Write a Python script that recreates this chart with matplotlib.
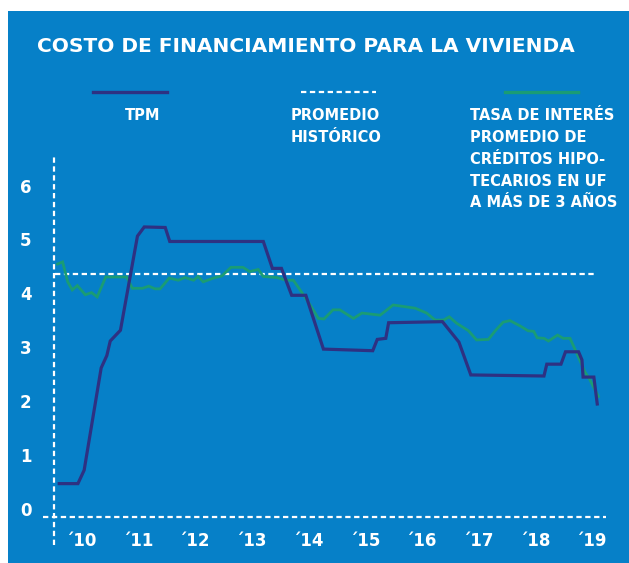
import matplotlib
matplotlib.use("Agg")
import matplotlib.pyplot as plt
from matplotlib.lines import Line2D
from matplotlib.patches import Rectangle
import numpy as np

# --- data -------------------------------------------------------------
tpm_x = [2009.58, 2009.91, 2010.02, 2010.32, 2010.42, 2010.48, 2010.66, 2010.96,
         2011.08, 2011.45, 2011.53, 2013.18, 2013.34, 2013.50, 2013.68, 2013.93,
         2014.24, 2015.11, 2015.19, 2015.34, 2015.39, 2016.34, 2016.63, 2016.84,
         2018.13, 2018.18, 2018.43, 2018.51, 2018.74, 2018.80, 2018.82, 2019.01,
         2019.07]
tpm_v = [0.5, 0.5, 0.75, 2.65, 2.88, 3.15, 3.35, 5.1,
         5.27, 5.26, 5.0, 5.0, 4.5, 4.5, 4.0, 4.0,
         3.0, 2.97, 3.18, 3.2, 3.49, 3.51, 3.13, 2.52,
         2.5, 2.72, 2.72, 2.95, 2.95, 2.8, 2.48, 2.48,
         1.98]

hipo_x = [2009.55, 2009.64, 2009.73, 2009.81, 2009.90, 2010.04, 2010.15, 2010.25,
          2010.40, 2010.77, 2010.87, 2011.05, 2011.16, 2011.27, 2011.36, 2011.52,
          2011.68, 2011.80, 2011.95, 2012.03, 2012.12, 2012.30, 2012.45, 2012.61,
          2012.82, 2012.94, 2013.09, 2013.18, 2013.42, 2013.58, 2013.71, 2013.90,
          2014.06, 2014.15, 2014.25, 2014.41, 2014.53, 2014.77, 2014.92, 2015.24,
          2015.47, 2015.86, 2016.06, 2016.21, 2016.36, 2016.46, 2016.59, 2016.80,
          2016.94, 2017.15, 2017.27, 2017.41, 2017.53, 2017.71, 2017.85, 2017.95,
          2018.01, 2018.13, 2018.21, 2018.37, 2018.47, 2018.59, 2018.71, 2018.85,
          2018.94, 2019.09]
hipo_v = [4.58, 4.62, 4.25, 4.10, 4.18, 4.01, 4.05, 3.97,
          4.34, 4.34, 4.13, 4.13, 4.17, 4.12, 4.12, 4.32,
          4.28, 4.33, 4.28, 4.35, 4.25, 4.32, 4.36, 4.52,
          4.52, 4.44, 4.48, 4.35, 4.33, 4.28, 4.28, 3.99,
          3.73, 3.57, 3.56, 3.73, 3.73, 3.57, 3.67, 3.63,
          3.82, 3.76, 3.67, 3.54, 3.54, 3.60, 3.48, 3.34,
          3.17, 3.18, 3.34, 3.50, 3.53, 3.43, 3.34, 3.33,
          3.21, 3.20, 3.15, 3.26, 3.20, 3.20, 2.92, 2.58,
          2.43, 2.12]

promedio_historico = 4.4
promedio_span = [2009.51, 2019.07]

y_ticks = [0, 1, 2, 3, 4, 5, 6]
x_labels = ["´10", "´11", "´12", "´13", "´14", "´15", "´16", "´17", "´18", "´19"]
x_label_pos = np.arange(2010, 2020) - 0.04

title = "COSTO DE FINANCIAMIENTO PARA LA VIVIENDA"
leg_tpm = "TPM"
leg_prom = "PROMEDIO\nHISTÓRICO"
leg_hipo = "TASA DE INTERÉS\nPROMEDIO DE\nCRÉDITOS HIPO-\nTECARIOS EN UF\nA MÁS DE 3 AÑOS"

# --- style ------------------------------------------------------------
BLUE = "#0680C8"
NAVY = "#2E3182"
GREEN = "#1A9C74"
WHITE = "#FFFFFF"
FONT = ["DejaVu Sans"]

W, H = 629, 563
fig = plt.figure(figsize=(W / 100, H / 100), dpi=100, facecolor="white")

def fx(px):
    return px / W

def fy(py):
    return 1 - py / H

# blue panel
fig.add_artist(Rectangle((fx(8), 0), 1 - fx(8), fy(11), transform=fig.transFigure,
                         facecolor=BLUE, edgecolor="none", zorder=-10))

# axes placement
x0, x1 = 2009.25, 2019.45
y0, y1 = -0.7, 6.7
left_px, right_px = 40.5, 618.8
bot_px, top_px = 548.2, 150.0
ax = fig.add_axes([fx(left_px), fy(bot_px), fx(right_px - left_px), (bot_px - top_px) / H])
ax.set_xlim(x0, x1)
ax.set_ylim(y0, y1)
ax.set_facecolor("none")
ax.axis("off")

dash_kw = dict(color=WHITE, lw=1.6, dashes=(2.4, 1.6), solid_capstyle="butt")

# frame lines
ax.plot([2009.495, 2009.495], [-0.64, 6.62], clip_on=False, **dash_kw)
ax.plot([2009.29, 2019.22], [-0.12, -0.12], clip_on=False, **dash_kw)
# historic average
ax.plot(promedio_span, [promedio_historico] * 2, zorder=2, **dash_kw)

# series
ax.plot(hipo_x, hipo_v, color=GREEN, lw=2.0, zorder=3, solid_joinstyle="miter")
ax.plot(tpm_x, tpm_v, color=NAVY, lw=2.3, zorder=4, solid_joinstyle="miter")

# tick labels
for v in y_ticks:
    ax.text(2008.99, v, str(v), color=WHITE, fontsize=12, fontweight="bold",
            family=FONT, ha="center", va="center", clip_on=False)
for xp, lab in zip(x_label_pos, x_labels):
    ax.text(xp, -0.567, lab, color=WHITE, fontsize=12, fontweight="bold",
            family=FONT, ha="center", va="center", clip_on=False)

# title
fig.text(fx(37), fy(46), title, color=WHITE, fontsize=14.5, fontweight="bold",
         family=FONT, ha="left", va="center")

# legend
fig.add_artist(Line2D([fx(93), fx(167)], [fy(92), fy(92)], color=NAVY, lw=2.4))
fig.add_artist(Line2D([fx(301), fx(376)], [fy(92), fy(92)], **dash_kw))
fig.add_artist(Line2D([fx(505), fx(578)], [fy(92), fy(92)], color=GREEN, lw=2.4))

leg_kw = dict(color=WHITE, fontsize=10.5, fontweight="bold", family=FONT,
              ha="left", va="top", linespacing=1.57)
fig.text(fx(125), fy(108), leg_tpm, **leg_kw)
fig.text(fx(291), fy(108), leg_prom, **leg_kw)
fig.text(fx(470), fy(108), leg_hipo, **leg_kw)

fig.savefig("out.png", dpi=100, facecolor="white")
